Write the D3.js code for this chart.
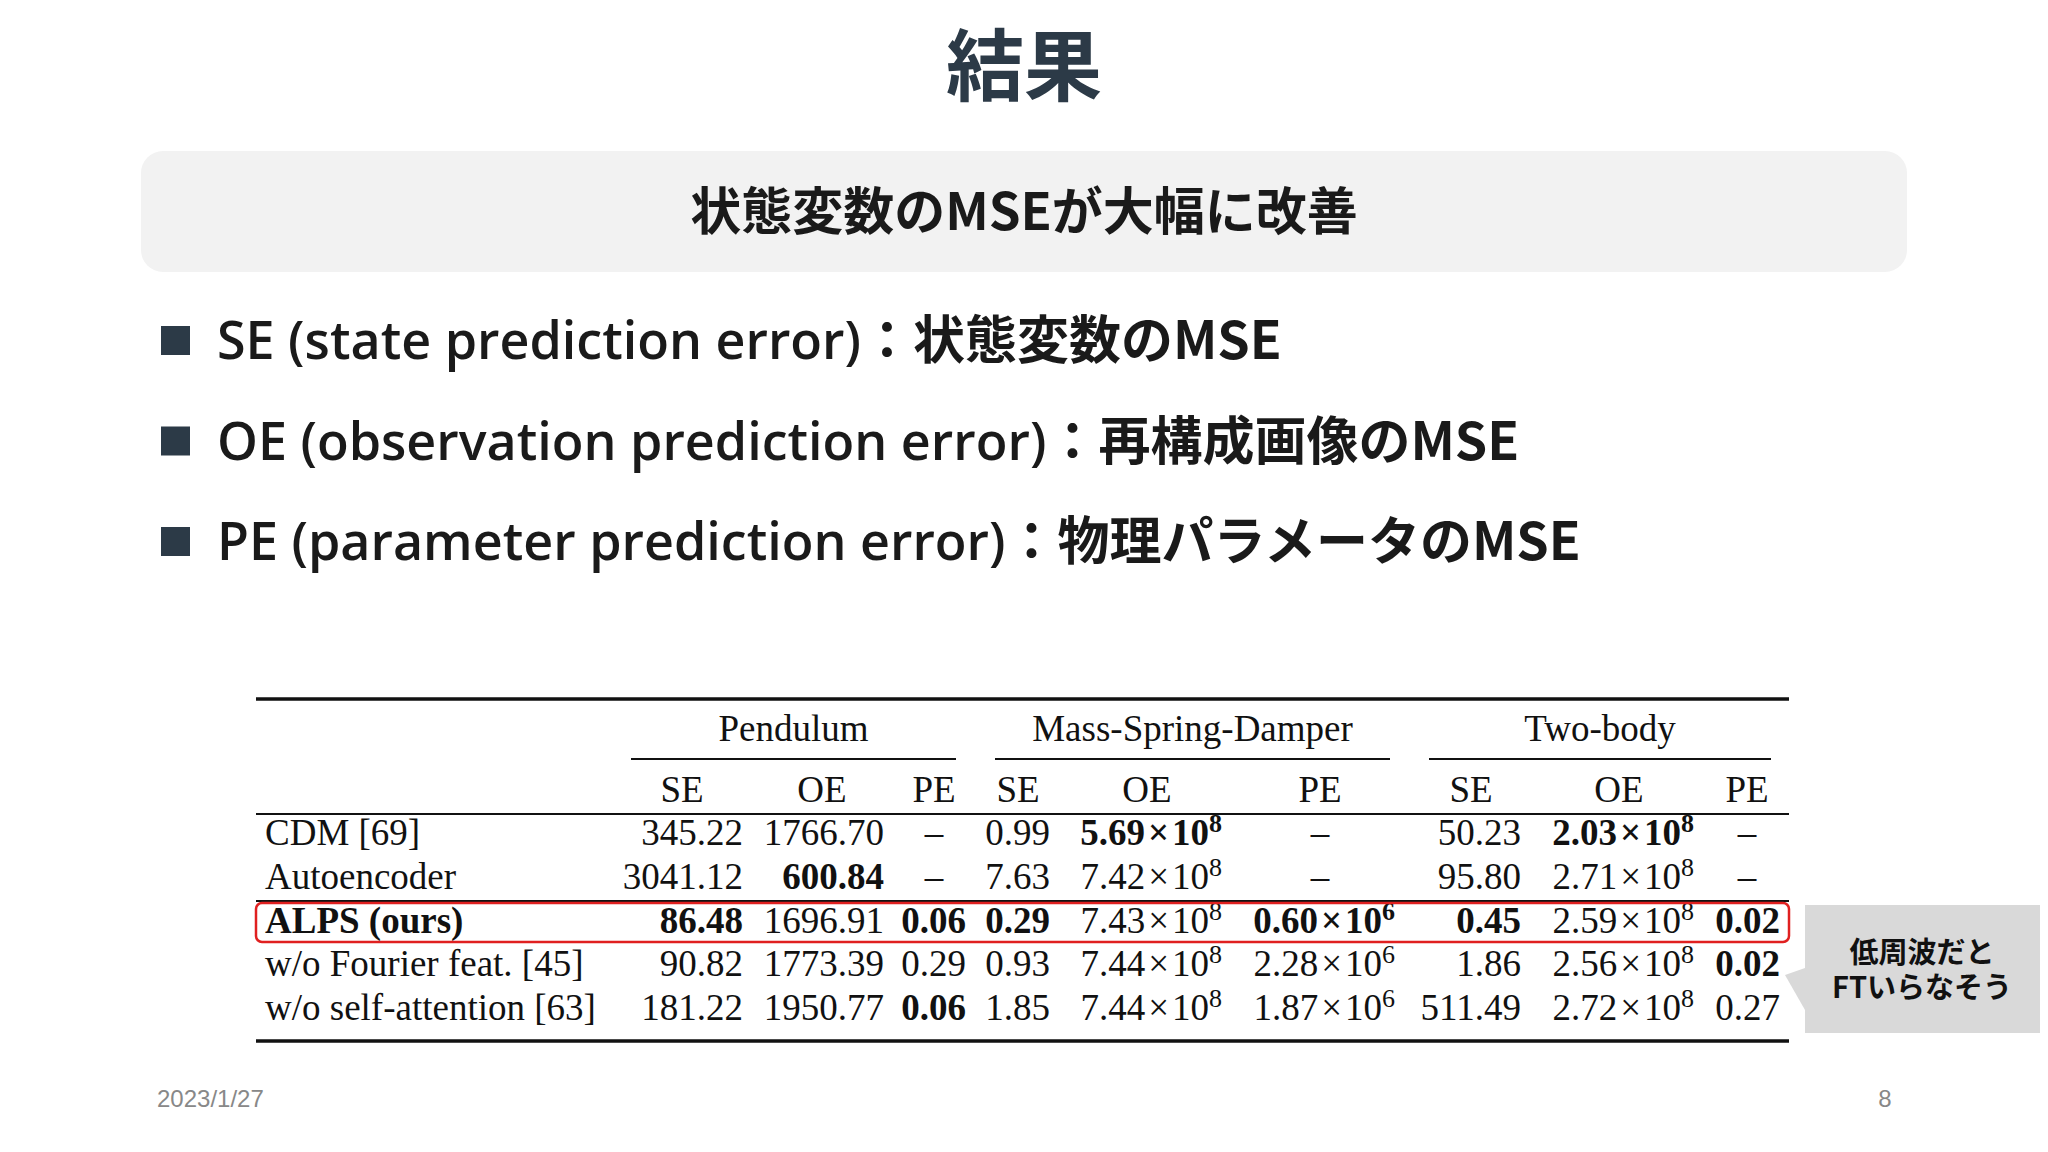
<!DOCTYPE html>
<html><head><meta charset="utf-8">
<script src="https://cdn.jsdelivr.net/npm/d3@7"></script>
<style>body{margin:0;background:#fff}svg{display:block}</style>
</head><body><svg id="c" width="2048" height="1152"></svg>
<script>
const title = "結果";
const banner = "状態変数のMSEが大幅に改善";
const bullets = [
  ["SE (state prediction error)", "：状態変数のMSE"],
  ["OE (observation prediction error)", "：再構成画像のMSE"],
  ["PE (parameter prediction error)", "：物理パラメータのMSE"]
];
const groups = ["Pendulum", "Mass-Spring-Damper", "Two-body"];
const columns = ["P_SE","P_OE","P_PE","M_SE","M_OE","M_PE","T_SE","T_OE","T_PE"];
const colLabels = ["SE","OE","PE","SE","OE","PE","SE","OE","PE"];
const methods = ["CDM [69]", "Autoencoder", "ALPS (ours)", "w/o Fourier feat. [45]", "w/o self-attention [63]"];
// "*" prefix = bold, "^" = exponent
const P_SE = ["345.22","3041.12","*86.48","90.82","181.22"];
const P_OE = ["1766.70","*600.84","1696.91","1773.39","1950.77"];
const P_PE = ["–","–","*0.06","0.29","*0.06"];
const M_SE = ["0.99","7.63","*0.29","0.93","1.85"];
const M_OE = ["*5.69×10^8","7.42×10^8","7.43×10^8","7.44×10^8","7.44×10^8"];
const M_PE = ["–","–","*0.60×10^6","2.28×10^6","1.87×10^6"];
const T_SE = ["50.23","95.80","*0.45","1.86","511.49"];
const T_OE = ["*2.03×10^8","2.71×10^8","2.59×10^8","2.56×10^8","2.72×10^8"];
const T_PE = ["–","–","*0.02","*0.02","0.27"];
const cells = {P_SE,P_OE,P_PE,M_SE,M_OE,M_PE,T_SE,T_OE,T_PE};
const note = ["低周波だと","FTいらなそう"];
const footerDate = "2023/1/27", pageNum = "8";

const svg = d3.select("#c");
const jp = "'Noto Sans CJK JP','Noto Sans',sans-serif";
const serif = "'Liberation Serif','DejaVu Serif',serif";

svg.append("text").attr("x",1024).attr("y",95).attr("text-anchor","middle")
  .attr("font-family",jp).attr("font-weight",700).attr("font-size",78).attr("fill","#2c3a47").text(title);
svg.append("rect").attr("x",141).attr("y",151).attr("width",1766).attr("height",121).attr("rx",22).attr("fill","#f2f2f2");
svg.append("text").attr("x",1024).attr("y",230).attr("text-anchor","middle")
  .attr("font-family",jp).attr("font-weight",700).attr("font-size",51).attr("fill","#1a1a1a").text(banner);

const by = d3.scalePoint().domain(d3.range(bullets.length)).range([340,541]);
bullets.forEach((b,i)=>{
  const y = by(i);
  svg.append("rect").attr("x",161).attr("y",y-14).attr("width",29).attr("height",29).attr("fill","#2c3a47");
  const t = svg.append("text").attr("x",217).attr("y",y+19).attr("font-family",jp).attr("font-weight",700)
    .attr("font-size",52).attr("fill","#1a1a1a");
  t.append("tspan").attr("font-family","'Open Sans','Noto Sans',sans-serif").attr("font-weight",600).text(b[0]);
  t.append("tspan").text(b[1]);
});

// table
const xRight = d3.scaleOrdinal().domain(columns).range([743,884,966,1050,1222,1395,1521,1694,1780]);
const xCenter = d3.scaleOrdinal().domain(columns).range([682,822,934,1018,1147,1320,1471,1619,1747]);
const yRow = d3.scalePoint().domain(methods).range([845,1020]);
const fs = 37;
const line = (x1,x2,y,w)=>svg.append("line").attr("x1",x1).attr("x2",x2).attr("y1",y).attr("y2",y).attr("stroke","#111").attr("stroke-width",w);
line(256,1789,699,3.5); line(256,1789,814,2); line(256,1789,901,2); line(256,1789,1041,3.5);
const gx = [[631,956],[995,1390],[1429,1771]];
groups.forEach((g,i)=>{
  line(gx[i][0],gx[i][1],759,2);
  svg.append("text").attr("x",(gx[i][0]+gx[i][1])/2).attr("y",741).attr("text-anchor","middle")
    .attr("font-family",serif).attr("font-size",fs).attr("fill","#111").text(g);
});
columns.forEach((c,i)=>{
  svg.append("text").attr("x",xCenter(c)).attr("y",802).attr("text-anchor","middle")
    .attr("font-family",serif).attr("font-size",fs).attr("fill","#111").text(colLabels[i]);
});
methods.forEach((m,r)=>{
  svg.append("text").attr("x",265).attr("y",yRow(m)).attr("font-family",serif).attr("font-size",fs)
    .attr("font-weight",m.startsWith("ALPS")?700:400).attr("fill","#111").text(m);
  columns.forEach(c=>{
    let v = cells[c][r], bold=false;
    if(v[0]==="*"){bold=true;v=v.slice(1);}
    const t = svg.append("text").attr("y",yRow(m)).attr("font-family",serif).attr("font-size",fs)
      .attr("font-weight",bold?700:400).attr("fill","#111");
    if(v==="–"){ t.attr("x",xCenter(c)).attr("text-anchor","middle").text(v); return; }
    t.attr("x",xRight(c)).attr("text-anchor","end");
    if(v.includes("^")){
      const [base,exp]=v.split("^");
      const [mant] = base.split("×");
      t.append("tspan").text(mant);
      t.append("tspan").attr("dx",3).text("×");
      t.append("tspan").attr("dx",3).text("10");
      t.append("tspan").attr("dy",-13).attr("font-size",26).text(exp);
    } else t.text(v);
  });
});
svg.append("rect").attr("x",256).attr("y",903).attr("width",1533).attr("height",39).attr("rx",6)
  .attr("fill","none").attr("stroke","#e02020").attr("stroke-width",2.5);

// callout
svg.append("path").attr("d","M1805,1010 L1785,975 L1805,968 Z").attr("fill","#d9d9d9");
svg.append("rect").attr("x",1805).attr("y",905).attr("width",235).attr("height",128).attr("fill","#d9d9d9");
note.forEach((n,i)=>svg.append("text").attr("x",1922).attr("y",963+i*35).attr("text-anchor","middle")
  .attr("font-family",jp).attr("font-weight",700).attr("font-size",29).attr("fill","#111").text(n));

svg.append("text").attr("x",157).attr("y",1107).attr("font-family","'Liberation Sans',Arial,sans-serif")
  .attr("font-size",24).attr("fill","#888").text(footerDate);
svg.append("text").attr("x",1885).attr("y",1107).attr("text-anchor","middle").attr("font-family","'Liberation Sans',Arial,sans-serif")
  .attr("font-size",24).attr("fill","#888").text(pageNum);
</script></body></html>
